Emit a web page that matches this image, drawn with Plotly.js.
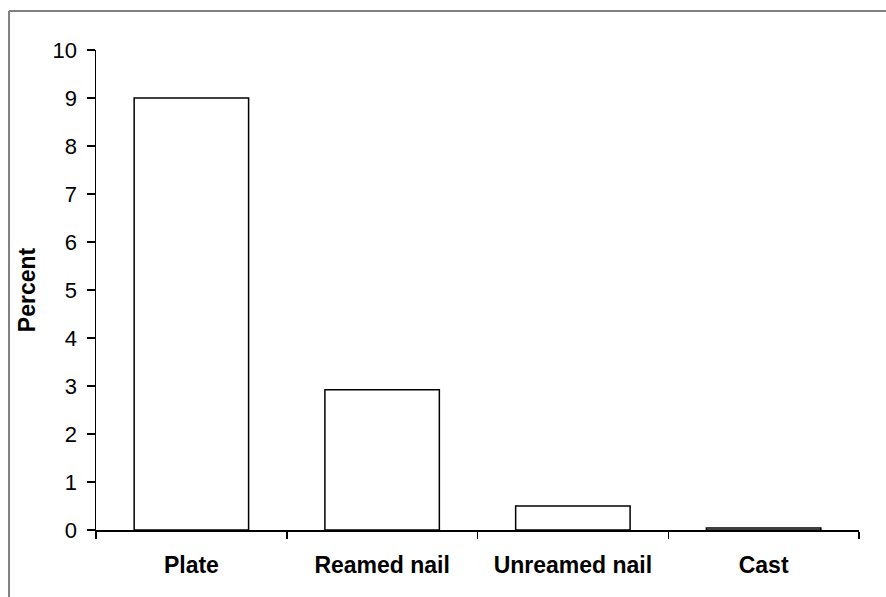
<!DOCTYPE html>
<html>
<head>
<meta charset="utf-8">
<script src="https://cdn.plot.ly/plotly-3.0.1.min.js"></script>
<style>html,body{margin:0;padding:0;background:#fff;}#chart{width:886px;height:597px;}</style>
</head>
<body>
<div id="chart"></div>
<script>
const categories = ["Plate", "Reamed nail", "Unreamed nail", "Cast"];
const percentValues = [9.0, 2.92, 0.5, 0.04];
const yTickValues = [0, 1, 2, 3, 4, 5, 6, 7, 8, 9, 10];

const trace = {
  type: "bar",
  x: categories,
  y: percentValues,
  marker: { color: "#ffffff", line: { color: "#000000", width: 1.5 } },
  hoverinfo: "skip"
};

const layout = {
  width: 886,
  height: 597,
  margin: { l: 96, r: 27, t: 50, b: 67 },
  paper_bgcolor: "#ffffff",
  plot_bgcolor: "#ffffff",
  showlegend: false,
  bargap: 0.4,
  font: { family: "Liberation Sans, Arial, sans-serif", color: "#000000" },
  xaxis: {
    type: "category",
    range: [-0.5, 3.5],
    tickson: "boundaries",
    ticks: "outside",
    ticklen: 7,
    tickwidth: 1.5,
    tickcolor: "#000000",
    ticklabelstandoff: 14,
    showline: true,
    linecolor: "#000000",
    linewidth: 1.5,
    showgrid: false,
    zeroline: false,
    tickfont: { size: 23, weight: "bold", color: "#000000" }
  },
  yaxis: {
    range: [0, 10],
    tickvals: yTickValues,
    ticks: "outside",
    ticklen: 8,
    tickwidth: 1.5,
    tickcolor: "#000000",
    ticklabelstandoff: 5,
    showline: true,
    linecolor: "#000000",
    linewidth: 1.5,
    showgrid: false,
    zeroline: false,
    tickfont: { size: 22, color: "#000000" },
    title: { text: "Percent", font: { size: 23, weight: "bold", color: "#000000" }, standoff: 10 }
  },
  shapes: [
    { type: "line", xref: "paper", yref: "paper", x0: -0.114, x1: -0.114, y0: 1.081, y1: -0.2,
      line: { color: "#808080", width: 2 } },
    { type: "line", xref: "paper", yref: "paper", x0: -0.114, x1: 1.05, y0: 1.081, y1: 1.081,
      line: { color: "#808080", width: 2 } }
  ]
};

Plotly.newPlot("chart", [trace], layout, { staticPlot: true, displayModeBar: false });
</script>
</body>
</html>
